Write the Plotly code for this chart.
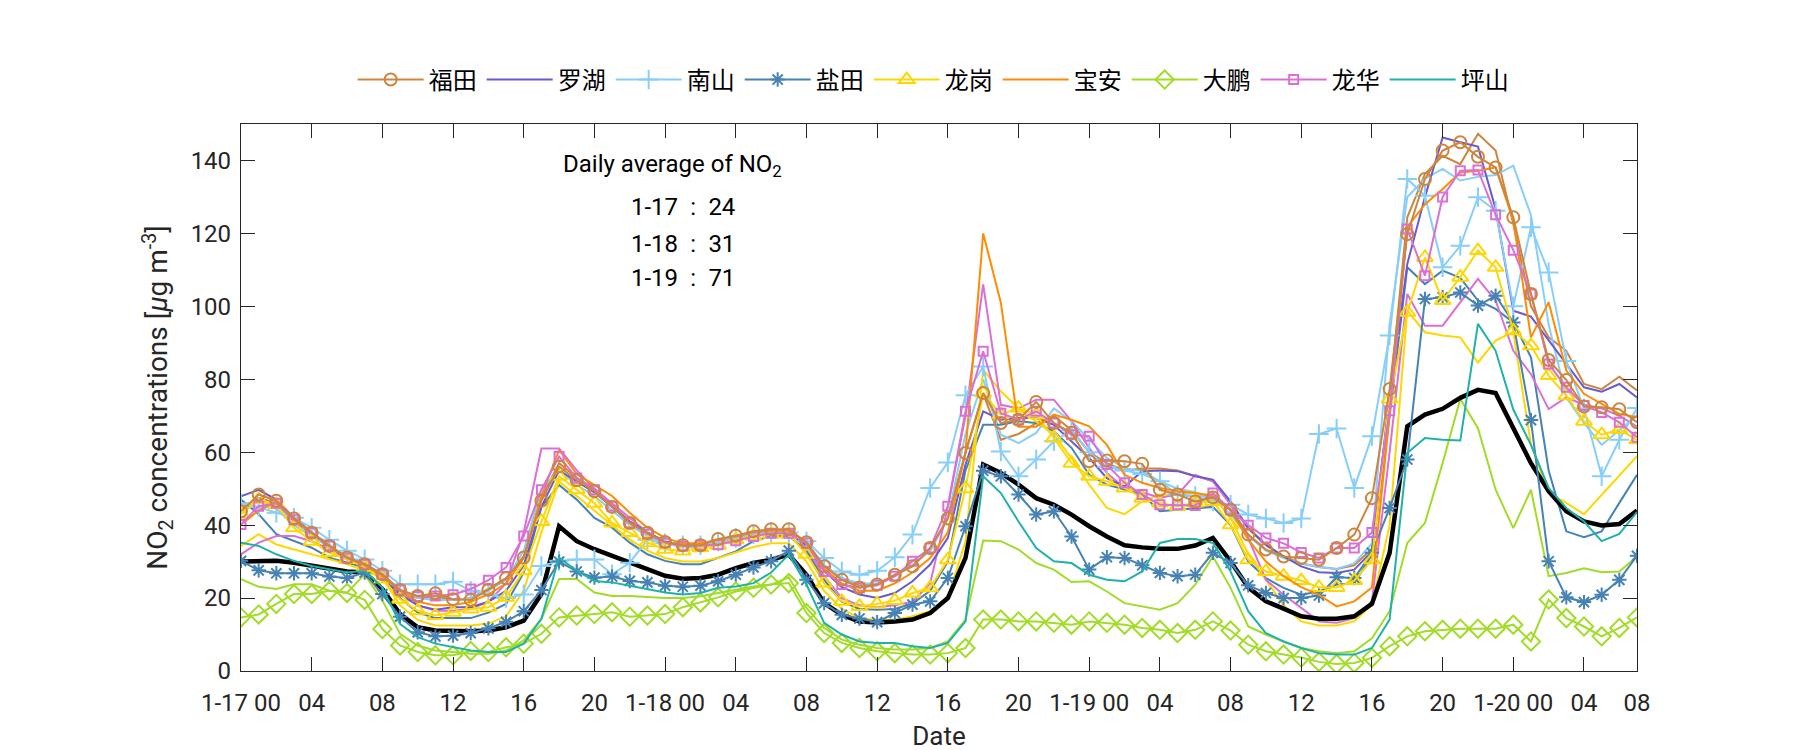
import plotly.graph_objects as go

hours = list(range(80))

tick_hours = [0, 4, 8, 12, 16, 20, 24, 28, 32, 36, 40, 44, 48, 52, 56, 60, 64, 68, 72, 76, 79]
tick_labels = ["1-17 00", "04", "08", "12", "16", "20", "1-18 00", "04", "08", "12", "16", "20",
               "1-19 00", "04", "08", "12", "16", "20", "1-20 00", "04", "08"]

futian = [43.8, 48.4, 46.7, 41.8, 37.9, 34.3, 31.1, 29.3, 26.5, 22.2, 20.6, 21.3, 19.7, 19.5, 22.3, 25.4, 31.1, 46.7, 56.1, 52.3, 49.3, 45.0, 40.6, 37.9, 35.4, 34.5, 34.5,
          36.2, 37.1, 38.3, 38.9, 38.9, 35.3, 28.7, 25.0, 22.9, 23.7, 26.4, 28.7, 33.7, 41.8, 59.8, 76.2, 68.0, 68.9, 73.8, 68.0, 65.3, 57.5, 57.7, 57.5, 56.8, 49.7, 48.4, 46.5,
          47.6, 44.2, 37.4, 33.3, 31.4, 31.0, 30.5, 33.7, 37.4, 47.4, 77.3, 119.8, 134.9, 142.7, 145.0, 141.0, 138.1, 124.4, 103.4, 85.3, 79.8, 72.5, 72.3, 71.8, 68.2]
luohu = [47.9, 49.7, 47.0, 42.0, 38.0, 34.0, 31.0, 29.5, 26.0, 21.0, 18.0, 16.8, 17.5, 17.5, 19.0, 22.0, 29.0, 45.0, 55.0, 52.0, 49.0, 45.0, 41.0, 38.0, 35.5, 34.5, 34.5,
         35.5, 36.5, 37.5, 38.0, 38.0, 34.5, 27.5, 23.0, 21.0, 20.0, 21.4, 24.6, 29.2, 36.5, 56.6, 71.2, 68.9, 69.4, 69.4, 67.5, 63.0, 58.4, 52.9, 50.6, 54.8, 55.0, 54.8, 53.4,
         52.5, 46.5, 39.2, 34.6, 31.4, 28.7, 27.1, 26.9, 27.8, 32.8, 75.0, 111.6, 130.0, 146.3, 145.0, 143.8, 126.7, 98.8, 97.2, 90.6, 84.2, 77.8, 76.6, 78.7, 75.0]
nanshan = [46.0, 45.0, 43.4, 42.0, 39.3, 36.0, 33.0, 30.6, 27.5, 23.8, 23.8, 23.8, 24.5, 22.0, 21.0, 20.0, 21.0, 28.8, 30.2, 30.6, 30.6, 26.5, 29.7, 36.0, 35.0, 34.5, 34.5,
           35.5, 36.5, 37.5, 38.0, 38.0, 35.6, 31.0, 27.3, 26.4, 27.5, 31.2, 37.4, 50.2, 57.2, 75.6, 83.5, 60.2, 53.4, 58.0, 63.0, 66.0, 60.0, 56.0, 55.0, 54.0, 52.0, 48.4, 48.0,
           46.5, 45.6, 42.9, 41.8, 40.6, 41.8, 65.0, 66.5, 50.2, 64.4, 92.0, 134.9, 130.3, 110.7, 116.6, 129.9, 126.2, 100.0, 121.7, 109.3, 85.0, 72.0, 53.4, 63.4, 72.1]
yantian = [30.2, 27.6, 26.8, 26.8, 26.8, 25.9, 25.5, 27.0, 21.1, 14.9, 10.6, 9.5, 9.7, 10.4, 11.7, 13.5, 16.4, 22.2, 30.0, 27.3, 25.6, 25.9, 24.7, 24.3, 23.4, 23.1, 23.4,
           24.6, 26.4, 28.4, 30.1, 33.0, 25.0, 18.6, 15.4, 14.4, 13.4, 15.9, 18.2, 19.1, 25.5, 39.7, 54.9, 53.4, 48.4, 42.9, 43.8, 36.9, 27.8, 31.2, 31.0, 29.0, 26.9, 26.0, 26.4,
           32.4, 29.6, 23.5, 21.4, 20.0, 20.0, 20.7, 25.7, 25.5, 32.4, 44.7, 58.0, 102.0, 102.5, 103.8, 100.2, 102.9, 95.6, 68.8, 30.1, 20.2, 18.9, 20.9, 25.0, 31.6]
longgang = [43.0, 47.0, 45.6, 39.3, 35.6, 32.5, 30.6, 28.4, 25.2, 19.7, 16.5, 15.2, 16.1, 17.0, 17.5, 20.2, 27.5, 41.0, 53.4, 49.7, 46.0, 40.6, 38.0, 35.2, 33.4, 32.9, 33.8,
            34.5, 36.0, 37.0, 37.5, 37.5, 32.0, 24.1, 19.1, 17.7, 18.4, 19.3, 21.4, 22.8, 30.5, 50.0, 76.2, 70.3, 72.1, 70.3, 63.9, 57.0, 53.4, 52.0, 50.2, 47.4, 46.1, 45.2, 46.1,
            46.5, 40.1, 30.5, 27.3, 26.0, 24.8, 22.9, 22.9, 24.8, 30.5, 74.6, 98.4, 113.4, 101.6, 108.0, 115.3, 110.7, 93.3, 89.2, 81.0, 75.5, 68.5, 64.8, 66.2, 63.4]
baoan = [40.2, 44.0, 46.5, 42.0, 38.0, 34.5, 31.0, 29.0, 26.0, 22.0, 19.0, 18.0, 18.0, 19.0, 21.0, 24.0, 31.0, 48.0, 60.6, 54.0, 51.0, 48.0, 43.4, 39.3, 36.5, 35.0, 35.0,
         36.0, 37.0, 38.0, 38.5, 38.5, 35.0, 28.0, 24.0, 22.0, 22.0, 24.0, 27.0, 31.0, 38.0, 60.0, 120.0, 101.0, 67.0, 67.0, 70.3, 68.9, 67.1, 62.0, 53.8, 51.6, 50.2, 49.3, 48.8,
         48.0, 44.0, 36.0, 30.0, 26.0, 23.0, 20.9, 17.7, 19.1, 22.9, 70.0, 121.7, 128.0, 132.2, 136.7, 137.2, 138.1, 123.5, 91.5, 101.1, 82.4, 76.0, 73.3, 70.5, 69.6]
dapeng = [14.7, 15.5, 18.4, 21.1, 21.1, 22.0, 21.4, 19.5, 11.5, 7.0, 5.2, 4.3, 4.3, 5.5, 5.2, 6.5, 7.5, 10.2, 14.7, 15.2, 15.6, 16.1, 14.9, 15.2, 15.6, 17.5, 18.8,
          20.2, 21.8, 22.8, 23.7, 24.1, 15.9, 10.4, 7.7, 6.3, 5.4, 4.9, 4.5, 4.5, 4.9, 6.3, 14.1, 14.1, 13.6, 13.6, 13.2, 12.7, 13.6, 13.2, 12.7, 11.8, 11.3, 10.4, 11.3,
          13.6, 11.1, 7.2, 5.4, 4.5, 3.7, 2.5, 1.9, 2.2, 3.6, 6.8, 9.5, 10.9, 11.3, 11.6, 11.6, 11.6, 12.7, 8.1, 19.6, 14.5, 12.2, 9.5, 11.8, 14.7]
longhua = [40.2, 45.2, 46.0, 41.5, 37.9, 34.3, 31.0, 29.3, 26.5, 22.2, 20.4, 20.6, 20.9, 22.5, 24.9, 28.4, 37.0, 49.7, 58.8, 52.9, 49.7, 45.2, 40.6, 37.6, 35.2, 34.3, 34.5,
           34.6, 35.7, 36.9, 37.8, 37.8, 35.1, 27.3, 23.7, 22.8, 23.5, 26.0, 30.1, 33.7, 45.2, 71.2, 87.7, 70.7, 68.9, 71.2, 68.0, 64.8, 64.4, 56.6, 51.6, 48.4, 45.6, 45.6, 45.4,
           48.8, 44.2, 40.0, 36.5, 35.0, 32.5, 31.0, 33.7, 33.7, 38.0, 71.4, 121.2, 108.4, 130.0, 137.2, 137.4, 125.1, 115.4, 103.4, 84.2, 77.8, 72.8, 70.9, 68.2, 64.1]
pingshan = [35.2, 34.3, 32.0, 30.2, 28.8, 27.9, 27.0, 27.5, 22.9, 12.9, 9.3, 7.5, 6.5, 5.6, 5.2, 5.2, 7.5, 14.3, 31.1, 27.5, 24.7, 24.3, 23.4, 22.5, 21.5, 21.0, 21.4,
            22.8, 23.2, 24.1, 27.0, 31.9, 23.7, 13.2, 10.0, 8.1, 7.7, 7.7, 6.8, 6.3, 7.7, 13.6, 53.4, 48.8, 41.0, 33.7, 30.1, 29.6, 26.4, 25.0, 24.6, 27.3, 35.1, 36.2, 36.2,
            35.1, 27.3, 16.4, 10.4, 8.1, 6.3, 4.9, 4.5, 4.5, 6.3, 14.1, 59.8, 63.9, 63.4, 63.2, 95.2, 87.8, 71.7, 62.0, 50.2, 44.7, 41.0, 35.6, 37.6, 43.6]
city_mean = [30.0, 30.2, 30.2, 29.7, 28.8, 27.9, 27.3, 27.0, 22.5, 15.6, 12.0, 11.1, 10.9, 10.9, 11.1, 12.0, 13.8, 21.1, 39.7, 35.6, 33.4, 31.5, 29.7, 27.9, 26.1, 25.3, 25.5,
             26.4, 28.2, 29.6, 30.5, 31.9, 26.4, 18.6, 15.4, 13.6, 13.3, 13.6, 14.1, 15.9, 20.0, 31.0, 56.6, 54.3, 51.1, 47.4, 45.6, 42.9, 39.7, 36.9, 34.5, 33.9, 33.5, 33.5, 34.4,
             36.5, 30.1, 22.9, 19.1, 17.1, 15.0, 14.3, 14.3, 15.0, 18.4, 32.4, 67.1, 70.3, 71.9, 74.9, 77.1, 76.2, 66.6, 57.0, 49.3, 43.8, 41.0, 39.9, 40.3, 44.0]

# second stations of some districts (drawn without markers, not in legend)
longhua_2 = [32.0, 35.2, 37.0, 37.0, 35.6, 33.4, 30.6, 29.0, 26.0, 22.0, 18.0, 16.5, 16.5, 17.0, 19.0, 24.0, 38.0, 61.0, 61.0, 55.0, 50.0, 46.0, 42.0, 38.0, 35.5, 34.5, 34.5,
             35.5, 36.5, 37.5, 38.0, 38.0, 34.0, 26.0, 20.0, 18.0, 17.5, 18.0, 19.0, 24.0, 45.0, 70.0, 106.0, 73.0, 72.0, 74.4, 74.4, 68.5, 61.2, 54.3, 50.2, 49.0, 47.5, 48.4, 53.8,
             52.0, 45.6, 36.5, 25.0, 20.9, 17.3, 13.6, 13.2, 14.5, 19.1, 60.0, 103.4, 94.7, 94.7, 101.1, 107.5, 101.6, 87.8, 81.4, 71.8, 75.0, 73.0, 72.0, 70.0, 67.0]
longgang_2 = [34.3, 37.5, 34.7, 33.4, 32.0, 30.6, 29.3, 27.5, 25.6, 18.0, 14.0, 12.5, 12.5, 12.5, 13.0, 15.0, 22.0, 38.0, 52.0, 48.0, 44.0, 40.0, 36.0, 33.0, 31.0, 30.0, 30.0,
              31.0, 32.5, 34.0, 35.0, 35.0, 30.0, 22.0, 17.0, 14.5, 14.0, 14.0, 15.0, 16.4, 20.0, 35.6, 82.6, 76.7, 72.0, 68.5, 64.8, 58.4, 51.1, 44.7, 43.0, 46.5, 48.4, 48.4, 48.8,
              48.0, 42.0, 32.0, 25.0, 18.0, 13.6, 12.5, 12.5, 13.6, 18.2, 40.0, 98.8, 92.9, 92.0, 91.5, 84.6, 90.6, 93.0, 62.0, 48.8, 46.1, 43.0, 48.4, 53.8, 58.9]
yantian_2 = [47.0, 43.0, 37.5, 35.6, 33.8, 31.1, 29.7, 28.4, 26.5, 20.0, 16.0, 14.5, 14.5, 14.5, 16.0, 18.4, 27.0, 45.0, 51.0, 47.0, 42.0, 39.3, 35.2, 32.0, 30.2, 29.3, 29.3,
             31.0, 32.8, 35.6, 37.0, 37.0, 33.0, 25.0, 19.0, 17.0, 16.8, 17.0, 18.5, 22.0, 30.0, 55.0, 67.5, 67.5, 68.5, 68.0, 65.7, 61.2, 53.8, 51.1, 49.7, 48.4, 43.8, 44.2, 44.7,
             45.0, 40.0, 30.0, 25.5, 22.8, 20.9, 21.8, 23.7, 24.0, 31.9, 70.0, 110.7, 106.1, 109.8, 107.8, 101.6, 99.3, 95.6, 86.0, 55.0, 38.3, 36.7, 38.3, 46.1, 53.8]
dapeng_2 = [25.2, 23.1, 22.5, 23.8, 23.8, 22.0, 21.5, 26.5, 19.3, 10.2, 7.0, 5.6, 5.2, 4.7, 4.7, 5.6, 8.4, 14.3, 25.2, 25.2, 21.5, 20.6, 20.6, 20.2, 20.0, 20.0, 20.5,
            21.4, 22.3, 23.2, 23.7, 25.7, 17.3, 11.8, 8.6, 7.2, 6.3, 5.9, 5.9, 6.3, 8.1, 14.1, 35.8, 35.6, 33.3, 29.6, 27.8, 24.4, 24.6, 21.8, 18.6, 17.7, 16.8, 18.6, 23.7,
            31.4, 22.8, 12.2, 10.0, 8.1, 6.3, 5.4, 4.9, 5.4, 9.0, 16.4, 35.1, 40.6, 57.0, 74.6, 66.6, 49.7, 39.2, 49.7, 26.0, 26.9, 28.2, 27.1, 27.3, 31.4]
futian_2 = [44.5, 47.5, 46.0, 41.0, 37.5, 34.0, 31.0, 29.0, 26.0, 21.5, 20.0, 20.5, 19.5, 20.0, 22.5, 25.5, 31.5, 47.5, 57.0, 53.0, 50.0, 45.5, 41.0, 38.0, 35.5, 34.5, 34.5,
            36.0, 37.0, 38.0, 38.5, 38.5, 35.0, 29.0, 25.5, 23.5, 24.0, 26.0, 29.0, 33.0, 42.0, 60.0, 76.0, 63.4, 65.0, 68.0, 70.0, 66.0, 60.0, 57.0, 55.0, 55.5, 55.5, 55.0, 53.5,
            52.0, 46.0, 39.0, 34.5, 31.5, 29.5, 28.5, 28.0, 29.0, 33.5, 75.0, 124.4, 136.3, 141.3, 139.0, 147.3, 142.7, 122.6, 100.0, 91.5, 87.8, 78.7, 77.3, 80.7, 76.9]
nanshan_2 = [44.0, 47.0, 44.5, 40.0, 37.0, 34.0, 31.5, 29.5, 26.5, 22.0, 20.0, 19.5, 19.5, 20.0, 22.0, 25.0, 33.0, 50.0, 55.0, 51.0, 48.0, 44.0, 40.0, 37.0, 35.0, 34.0, 34.0,
             35.0, 36.5, 37.5, 38.0, 38.0, 35.0, 29.0, 25.5, 24.0, 24.0, 26.0, 29.0, 33.0, 42.0, 65.0, 80.0, 64.8, 62.5, 65.3, 72.0, 68.5, 63.4, 58.4, 55.7, 54.8, 52.0, 50.0, 49.0,
             47.0, 43.0, 37.0, 33.0, 31.0, 29.5, 28.5, 28.0, 29.5, 35.0, 95.0, 130.0, 135.0, 137.7, 134.5, 135.5, 136.0, 138.6, 125.0, 95.0, 75.0, 68.0, 62.0, 66.0, 70.0]

daily_labels = ["Daily average of NO<sub>2</sub>", "1-17\u2002:\u200224", "1-18\u2002:\u200231", "1-19\u2002:\u200271"]

C_FUTIAN = "#CD853F"
C_LUOHU = "#6A5ACD"
C_NANSHAN = "#87CEFA"
C_YANTIAN = "#4682B4"
C_LONGGANG = "#FFD700"
C_BAOAN = "#FF8C00"
C_DAPENG = "#A2DC28"
C_LONGHUA = "#DA70D6"
C_PINGSHAN = "#20B2AA"

fig = go.Figure()


def add_line(y, color, name=None, symbol=None, size=10, width=2.0, legend=False, rank=None):
    kw = dict(x=hours, y=y, mode="lines+markers" if symbol else "lines",
              line=dict(color=color, width=width), name=name or "",
              showlegend=legend, hoverinfo="skip")
    if symbol:
        kw["marker"] = dict(symbol=symbol, size=size, color=color,
                            line=dict(color=color, width=2))
    if rank is not None:
        kw["legendrank"] = rank
    fig.add_trace(go.Scatter(**kw))


# unmarked second stations
add_line(futian_2, C_FUTIAN)
add_line(nanshan_2, C_NANSHAN)
add_line(yantian_2, C_YANTIAN)
add_line(longgang_2, C_LONGGANG)
add_line(dapeng_2, C_DAPENG)
add_line(longhua_2, C_LONGHUA)

# city mean
add_line(city_mean, "black", width=4.5)

add_line(luohu, C_LUOHU, "罗湖", legend=True, rank=2)
add_line(nanshan, C_NANSHAN, "南山", "cross-thin-open", 14, legend=True, rank=3)
add_line(yantian, C_YANTIAN, "盐田", "asterisk-open", 12, legend=True, rank=4)
add_line(longgang, C_LONGGANG, "龙岗", "triangle-up-open", 14, legend=True, rank=5)
add_line(baoan, C_BAOAN, "宝安", legend=True, rank=6)
add_line(dapeng, C_DAPENG, "大鹏", "diamond-open", 14, legend=True, rank=7)
add_line(longhua, C_LONGHUA, "龙华", "square-open", 9, legend=True, rank=8)
add_line(pingshan, C_PINGSHAN, "坪山", legend=True, rank=9)
add_line(futian, C_FUTIAN, "福田", "circle-open", 12, legend=True, rank=1)

FONT = "Roboto, 'Noto Sans CJK SC', sans-serif"
AX = "#262626"

ann_pos = [(24.4, 138.5), (25.0, 127.2), (25.0, 117.1), (25.0, 107.8)]
for txt, (xv, yv) in zip(daily_labels, ann_pos):
    fig.add_annotation(x=xv, y=yv, xref="x", yref="y", text=txt, showarrow=False,
                       font=dict(family=FONT, size=24, color="black"), xanchor="center", yanchor="middle")

fig.update_layout(
    width=1800, height=750,
    margin=dict(l=233, r=171, t=116, b=87),
    plot_bgcolor="white", paper_bgcolor="white",
    font=dict(family=FONT, size=24, color=AX),
    legend=dict(orientation="h", x=0.080, xanchor="left", y=1.0805, yanchor="middle",
                font=dict(family="'Noto Sans CJK SC', sans-serif", size=24, color="black"),
                itemwidth=66, bgcolor="rgba(0,0,0,0)", traceorder="normal"),
    xaxis=dict(range=[0, 79], tickmode="array", tickvals=tick_hours, ticktext=tick_labels,
               ticks="inside", ticklen=14, tickwidth=1, tickcolor=AX,
               showline=True, linecolor=AX, linewidth=1.2, mirror="ticks",
               showgrid=False, zeroline=False, ticklabelstandoff=10, automargin=False,
               tickfont=dict(size=24, color=AX),
               title=dict(text="Date", font=dict(size=26, color=AX), standoff=10)),
    yaxis=dict(range=[0, 150], tickmode="array", tickvals=[0, 20, 40, 60, 80, 100, 120, 140],
               ticks="inside", ticklen=14, tickwidth=1, tickcolor=AX,
               showline=True, linecolor=AX, linewidth=1.2, mirror="ticks",
               showgrid=False, zeroline=False, ticklabelstandoff=4, automargin=False,
               tickfont=dict(size=24, color=AX),
               title=dict(text="NO<sub>2</sub> concentrations [<i>μ</i>g m<sup>-3</sup>]",
                          font=dict(size=28, color=AX), standoff=14)),
)

fig.write_html("out.html")
